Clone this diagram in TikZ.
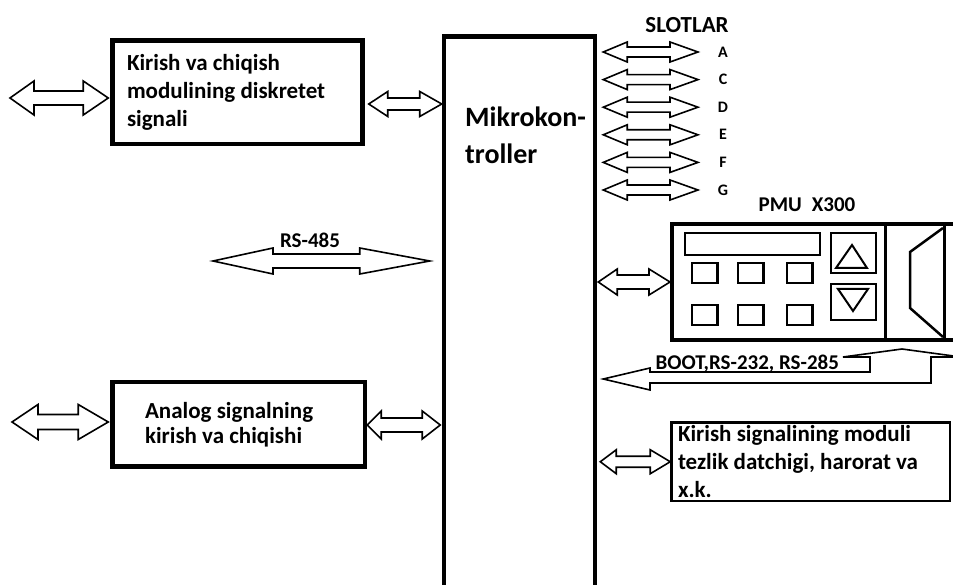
\documentclass[tikz,border=0pt]{standalone}
\usepackage{fontspec}
\setmainfont{Carlito}
\usetikzlibrary{calc}

% hollow double-headed arrow between two points (y taken from the first one)
% #1 left end, #2 right end, #3 half head height, #4 half shaft height,
% #5 left head length, #6 right head length
\newcommand\dblarr[6]{%
  \draw[dbl] let \p1=(#1), \p2=(#2) in
    (\x1,\y1) -- (\x1+#5,\y1+#3) -- (\x1+#5,\y1+#4) -- (\x2-#6,\y1+#4)
    -- (\x2-#6,\y1+#3) -- (\x2,\y1) -- (\x2-#6,\y1-#3) -- (\x2-#6,\y1-#4)
    -- (\x1+#5,\y1-#4) -- (\x1+#5,\y1-#3) -- cycle;}

\tikzset{
  dbl/.style={draw=black, line width=1.6pt, fill=white, line join=miter},
  box/.style={draw=black, fill=white, rectangle},
  txt/.style={font=\bfseries\fontsize{23}{28}\selectfont, text=black},
  small/.style={font=\bfseries\fontsize{21}{25}\selectfont, text=black},
  letter/.style={font=\bfseries\fontsize{16}{18}\selectfont, text=black},
  part/.style={draw=black, line width=2.5pt},
}

\begin{document}
\begin{tikzpicture}[x=1pt, y=-1pt]
\clip (0,0) rectangle (953,585);
\fill[white] (0,0) rectangle (953,585);

% main blocks
\node[box, line width=4.5pt, minimum width=151pt, minimum height=583.5pt] (mc) at (519.5,328.25) {};
\node[anchor=north west, inner sep=0pt, align=flush left,
      font=\bfseries\fontsize{28}{37}\selectfont] (mct) at (465,107) {Mikrokon-\\troller};

\node[box, txt, line width=4.5pt, minimum width=250pt, minimum height=103.5pt,
      text width=221pt, inner xsep=14.5pt, align=flush left] (k1) at (237.5,92.25)
      {Kirish va chiqish\\modulining diskretet\\signali};

\node[box, txt, font=\bfseries\fontsize{23}{25}\selectfont, line width=4.5pt,
      minimum width=252.5pt, minimum height=84.5pt,
      text width=187.5pt, inner xsep=32.5pt, align=flush left] (an) at (238.75,424.25)
      {Analog signalning\\kirish va chiqishi};

\node[box, txt, line width=2.5pt, minimum width=278.5pt, minimum height=78.5pt,
      text width=265.5pt, inner xsep=6.5pt, inner ysep=0pt, align=flush left] (kb) at (810.75,461.75)
      {Kirish signalining moduli\\tezlik datchigi, harorat va\\x.k.};

% operator panel
\node[box, line width=4pt, minimum width=328pt, minimum height=116pt] (pmu) at (836,282) {};
\draw[line width=3pt] (885,224) -- (885,340) (944,224) -- (944,340);
\draw[part] (685,233) rectangle (820,255);
\foreach \bx in {692,738,787}
  \foreach \by in {263,305}
    \draw[part] (\bx,\by) rectangle +(25.5,20);
\draw[part] (831,233) rectangle (876,273);
\draw[part, line width=2pt] (836,268) -- (852,245) -- (867,268) -- cycle;
\draw[part] (831,284) rectangle (876,320);
\draw[part, line width=2pt] (838,289) -- (868,289) -- (853,311) -- cycle;
\draw[line width=2.5pt, line join=miter] (943,228) -- (910,252) -- (910,308) -- (943,337);
\node[small] (pmut) at (807,205) {PMU\hspace{10pt}X300};

% slots
\node[txt] (slot) at (687,25) {SLOTLAR};
\foreach \l/\y in {A/52, C/79.6, D/107.2, E/134.8, F/162.4, G/190} {
  \coordinate (s\l) at (698,\y);
  \node[letter] (l\l) at (723,\y) {\l};
  \dblarr{$(mc.east |- s\l)+(6,0)$}{s\l}{10}{5}{24}{28}
}

% connectors of the left blocks
\coordinate (k1in) at (10,98);
\dblarr{k1in}{$(k1.west)+(-2,0)$}{17}{7}{24}{25}
\dblarr{$(k1.east)+(4,11.75)$}{mc.west}{12.5}{6}{19}{22}

\coordinate (anin) at (12,422);
\dblarr{anin}{$(an.west)+(-2,0)$}{17.5}{7.5}{26}{30}
\dblarr{$(an.east)+(0,0.75)$}{$(mc.west)+(-1.5,0)$}{14}{7}{14}{18}

% RS-485 bus
\coordinate (rs) at (213,261);
\dblarr{rs}{$(mc.west)+(-12,0)$}{13}{7}{60}{70}
\node[small] (rst) at (310,240) {RS-485};

% connectors of the right blocks
\dblarr{$(mc.east |- pmu.west)+(1,0)$}{pmu.west}{13}{7}{19}{21}
\dblarr{$(mc.east |- kb.west)+(3,0)$}{kb.west}{12}{5.5}{16}{20}

% bent arrow from the panel back to the controller
\draw[dbl] ($(mc.east |- 0,379)+(6,0)$) -- (650,368) -- (650,372) -- (870,372)
  -- (870,357) -- (843,357) -- (902,349) -- (961,357) -- (931,357)
  -- (931,383) -- (650,383) -- (650,390) -- cycle;
\node[small, anchor=base west] (boot) at (652,369) {BOOT,RS-232, RS-285};
\end{tikzpicture}
\end{document}
